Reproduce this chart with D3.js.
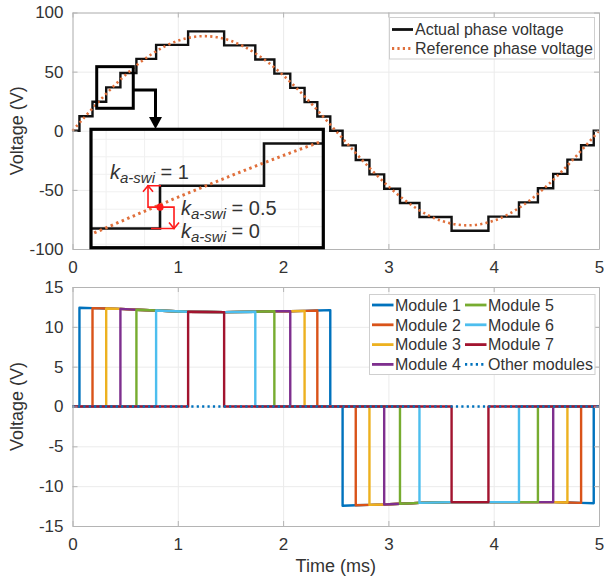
<!DOCTYPE html>
<html>
<head>
<meta charset="utf-8">
<script src="https://cdn.jsdelivr.net/npm/d3@7"></script>
<style>
    body { margin: 0; background: #fff; }
    svg text { font-family: "Liberation Sans", Arial, sans-serif; fill: #333; }
</style>
</head>
<body>
<svg id="chart" width="604" height="580"></svg>
<script>
// ---- data ----
var timeTicks = [0, 1, 2, 3, 4, 5];
var phaseTicks = [-100, -50, 0, 50, 100];
var moduleTicks = [-15, -10, -5, 0, 5, 10, 15];

// reference phase voltage (V), sampled every 0.125 ms
var refTime = [0, 0.125, 0.25, 0.375, 0.5, 0.625, 0.75, 0.875, 1, 1.125, 1.25,
    1.375, 1.5, 1.625, 1.75, 1.875, 2, 2.125, 2.25, 2.375, 2.5,
    2.625, 2.75, 2.875, 3, 3.125, 3.25, 3.375, 3.5, 3.625, 3.75,
    3.875, 4, 4.125, 4.25, 4.375, 4.5, 4.625, 4.75, 4.875, 5];
var refVoltage = [0, 12.5, 24.7, 36.3, 47, 56.6, 64.7, 71.3, 76.1, 79, 80,
    79, 76.1, 71.3, 64.7, 56.6, 47, 36.3, 24.7, 12.5, 0,
    -12.5, -24.7, -36.3, -47, -56.6, -64.7, -71.3, -76.1, -79, -80,
    -79, -76.1, -71.3, -64.7, -56.6, -47, -36.3, -24.7, -12.5, 0];

// actual phase voltage (staircase), level held from each time
var stepTime = [0, 0.066, 0.19, 0.32, 0.455, 0.607, 0.794, 1.098, 1.44, 1.736, 1.917, 2.068,
    2.204, 2.325, 2.448, 2.565, 2.69, 2.82, 2.96, 3.11, 3.295, 3.6, 3.95, 4.24, 4.42,
    4.565, 4.7, 4.83, 4.95, 5];
var stepLevel = [0, 12.3, 24.5, 36.7, 48.8, 60.8, 72.6, 84, 72.2, 60.3, 48.3, 36.3,
    24.2, 12.1, 0, -12.4, -24.7, -36.9, -49.1, -61.1, -73, -84.6, -72.6, -60.6, -48.6,
    -36.5, -24.4, -12.2, 0, 0];

// module switching edges (ms) and module voltage at each edge (V)
var posEdgeTime = [0.066, 0.19, 0.32, 0.455, 0.607, 0.794, 1.098, 1.44, 1.736, 1.917, 2.068, 2.204, 2.325, 2.448];
var posEdgeVolt = [12.4, 12.35, 12.3, 12.25, 12.15, 12.05, 11.9, 11.85, 11.9, 11.95, 11.95, 12.0, 12.05, 12.1];
var negEdgeTime = [2.565, 2.69, 2.82, 2.96, 3.11, 3.295, 3.6, 3.95, 4.24, 4.42, 4.565, 4.7, 4.83, 4.95];
var negEdgeVolt = [-12.45, -12.4, -12.35, -12.3, -12.2, -12.1, -12.0, -12.0, -12.0, -12.0, -12.0, -12.05, -12.1, -12.15];

var moduleNames = ["Module 1", "Module 2", "Module 3", "Module 4", "Module 5", "Module 6", "Module 7"];
var otherName = "Other modules";
var phaseNames = ["Actual phase voltage", "Reference phase voltage"];

// ---- styles ----
var moduleColors = ["#0072BD", "#D95319", "#EDB120", "#7E2F8E", "#77AC30", "#4DBEEE", "#A2142F"];
var refColor = "#e0703c";

(function () {
    "use strict";

    var svg = d3.select("#chart");
    var left = 72.5, right = 599;
    var fmt = function (d) { return String(d); }; // plain hyphen minus, no decimals

    var x = d3.scaleLinear().domain([0, 5]).range([left, right]);
    var yTop = d3.scaleLinear().domain([-100, 100]).range([249, 12.5]);
    var yBot = d3.scaleLinear().domain([-15, 15]).range([526, 287]);

    function frame(y, ticks) {
        var g = svg.append("g");
        var y0 = y.range()[0], y1 = y.range()[1];
        // grid
        g.append("g").attr("transform", "translate(0," + y0 + ")")
            .call(d3.axisBottom(x).tickValues(timeTicks).tickSize(-(y0 - y1)).tickFormat(""))
            .call(function (s) { s.select(".domain").remove(); s.selectAll("line").attr("stroke", "#ebebeb"); });
        g.append("g").attr("transform", "translate(" + left + ",0)")
            .call(d3.axisLeft(y).tickValues(ticks).tickSize(-(right - left)).tickFormat(""))
            .call(function (s) { s.select(".domain").remove(); s.selectAll("line").attr("stroke", "#ebebeb"); });
        return g;
    }

    function axes(y, ticks) {
        var g = svg.append("g");
        var y0 = y.range()[0], y1 = y.range()[1];
        g.append("g").attr("transform", "translate(0," + y0 + ")")
            .call(d3.axisBottom(x).tickValues(timeTicks).tickFormat(fmt)
                .tickSizeInner(-5).tickSizeOuter(0).tickPadding(12));
        g.append("g").attr("transform", "translate(" + left + ",0)")
            .call(d3.axisLeft(y).tickValues(ticks).tickFormat(fmt)
                .tickSizeInner(-5).tickSizeOuter(0).tickPadding(9));
        g.append("g").attr("transform", "translate(0," + y1 + ")")
            .call(d3.axisTop(x).tickValues(timeTicks).tickSizeInner(-5).tickSizeOuter(0).tickFormat(""));
        g.append("g").attr("transform", "translate(" + right + ",0)")
            .call(d3.axisRight(y).tickValues(ticks).tickSizeInner(-5).tickSizeOuter(0).tickFormat(""));
        g.selectAll(".domain").attr("stroke", "#b4b4b4");
        g.selectAll(".tick line").attr("stroke", "#b4b4b4");
        g.selectAll(".tick text").attr("font-size", 17).attr("fill", "#333")
            .attr("font-family", "Liberation Sans, Arial, sans-serif");
        g.append("text")
            .attr("transform", "translate(23," + ((y0 + y1) / 2) + ") rotate(-90)")
            .attr("text-anchor", "middle").attr("font-size", 18)
            .text("Voltage (V)");
    }

    // ================= top panel =================
    frame(yTop, phaseTicks);

    var stepLine = d3.line().curve(d3.curveStepAfter)
        .x(function (d) { return x(d[0]); }).y(function (d) { return yTop(d[1]); });
    var smoothLine = d3.line().curve(d3.curveMonotoneX)
        .x(function (d) { return x(d[0]); }).y(function (d) { return yTop(d[1]); });

    var steps = stepTime.map(function (t, i) { return [t, stepLevel[i]]; });
    var ref = refTime.map(function (t, i) { return [t, refVoltage[i]]; });

    svg.append("path").datum(steps).attr("d", stepLine)
        .attr("fill", "none").attr("stroke", "#111").attr("stroke-width", 2.4);
    svg.append("path").datum(ref).attr("d", smoothLine)
        .attr("fill", "none").attr("stroke", refColor).attr("stroke-width", 2.6)
        .attr("stroke-dasharray", "2.2,3.2");

    axes(yTop, phaseTicks);

    // small zoom box on the curve
    var boxT = [0.23, 0.577], boxV = [19, 54.2];
    svg.append("rect")
        .attr("x", x(boxT[0])).attr("y", yTop(boxV[1]))
        .attr("width", x(boxT[1]) - x(boxT[0])).attr("height", yTop(boxV[0]) - yTop(boxV[1]))
        .attr("fill", "none").attr("stroke", "#000").attr("stroke-width", 3);

    // inset (magnified view)
    var xi = d3.scaleLinear().domain([0.2304, 0.532]).range([91, 323.3]);
    var yi = d3.scaleLinear().domain([19.0, 52.86]).range([247.7, 129.3]);
    var inset = svg.append("g");
    svg.append("clipPath").attr("id", "insetClip").append("rect")
        .attr("x", 91).attr("y", 129.3).attr("width", 232.3).attr("height", 118.4);
    inset.append("rect").attr("x", 91).attr("y", 129.3).attr("width", 232.3).attr("height", 118.4)
        .attr("fill", "#fff");
    var ig = inset.append("g").attr("clip-path", "url(#insetClip)");
    [0.25, 0.3, 0.35, 0.4, 0.45, 0.5].forEach(function (t) {
        ig.append("line").attr("x1", xi(t)).attr("x2", xi(t)).attr("y1", 129).attr("y2", 248)
            .attr("stroke", "#f0f0f0");
    });
    [20, 25, 30, 35, 40, 45, 50].forEach(function (v) {
        ig.append("line").attr("y1", yi(v)).attr("y2", yi(v)).attr("x1", 91).attr("x2", 323)
            .attr("stroke", "#f0f0f0");
    });
    ig.append("path").datum(steps)
        .attr("d", d3.line().curve(d3.curveStepAfter)
            .x(function (d) { return xi(d[0]); }).y(function (d) { return yi(d[1]); }))
        .attr("fill", "none").attr("stroke", "#111").attr("stroke-width", 2.6);
    ig.append("path").datum(ref)
        .attr("d", d3.line().curve(d3.curveMonotoneX)
            .x(function (d) { return xi(d[0]); }).y(function (d) { return yi(d[1]); }))
        .attr("fill", "none").attr("stroke", refColor).attr("stroke-width", 3)
        .attr("stroke-dasharray", "2.5,3.5");

    // red switching annotation
    var rx = xi(stepTime[3]), lo = yi(stepLevel[2]), hi = yi(stepLevel[3]), mid = (lo + hi) / 2;
    var red = inset.append("g").attr("stroke", "#ff1a1a").attr("stroke-width", 1.6).attr("fill", "none");
    red.append("path").attr("d", "M" + rx + "," + mid + "H" + (rx - 12) + "V" + hi + "H" + (rx + 1));
    red.append("path").attr("d", "M" + (rx - 17) + "," + (hi + 6) + "L" + (rx - 12) + "," + hi + "L" + (rx - 7) + "," + (hi + 6));
    red.append("path").attr("d", "M" + rx + "," + mid + "H" + (rx + 14) + "V" + lo + "H" + (rx - 9));
    red.append("path").attr("d", "M" + (rx + 9) + "," + (lo - 6) + "L" + (rx + 14) + "," + lo + "L" + (rx + 19) + "," + (lo - 6));
    inset.append("circle").attr("cx", rx).attr("cy", mid).attr("r", 3.6).attr("fill", "#ff1a1a");

    inset.append("rect").attr("x", 91).attr("y", 129.3).attr("width", 232.3).attr("height", 118.4)
        .attr("fill", "none").attr("stroke", "#000").attr("stroke-width", 3.2);

    function kLabel(px, py, val) {
        var t = svg.append("text").attr("x", px).attr("y", py)
            .attr("font-family", "Liberation Serif, Times New Roman, serif")
            .attr("font-size", 20).attr("fill", "#111");
        t.append("tspan").attr("font-style", "italic").text("k");
        t.append("tspan").attr("font-style", "italic").attr("font-size", 15).attr("dy", 4).text("a-swi");
        t.append("tspan").attr("dy", -4).text(" = " + val);
    }
    kLabel(110, 179, "1");
    kLabel(181, 215, "0.5");
    kLabel(181, 237.5, "0");

    // big arrow from the small box to the inset
    var ax0 = x(boxT[1]), ay0 = 90, axm = 155.5;
    svg.append("path").attr("d", "M" + ax0 + "," + ay0 + "H" + axm + "V" + 119)
        .attr("fill", "none").attr("stroke", "#000").attr("stroke-width", 3);
    svg.append("path").attr("d", "M" + (axm - 6.5) + ",117L" + (axm + 6.5) + ",117L" + axm + ",129Z")
        .attr("fill", "#000");

    // top legend
    var lg = svg.append("g");
    lg.append("rect").attr("x", 389.5).attr("y", 17.5).attr("width", 205).attr("height", 41.5)
        .attr("fill", "#fff").attr("stroke", "#cfcfcf");
    [29.5, 48.5].forEach(function (cy, i) {
        lg.append("line").attr("x1", 392).attr("x2", 413).attr("y1", cy).attr("y2", cy)
            .attr("stroke", i ? refColor : "#111").attr("stroke-width", i ? 2.8 : 2.8)
            .attr("stroke-dasharray", i ? "2.2,3.2" : null);
        lg.append("text").attr("x", 415).attr("y", cy).attr("dy", "0.36em")
            .attr("font-size", 16).attr("fill", "#222").text(phaseNames[i]);
    });

    // ================= bottom panel =================
    frame(yBot, moduleTicks);

    var modLine = d3.line()
        .x(function (d) { return x(d[0]); }).y(function (d) { return yBot(d[1]); });

    moduleNames.forEach(function (name, k) {
        var last = posEdgeTime.length - 1 - k;
        var pts = [[0, 0], [posEdgeTime[k], 0]];
        for (var i = k; i <= last; i++) pts.push([posEdgeTime[i], posEdgeVolt[i]]);
        pts.push([posEdgeTime[last], 0], [negEdgeTime[k], 0]);
        for (i = k; i <= last; i++) pts.push([negEdgeTime[i], negEdgeVolt[i]]);
        pts.push([negEdgeTime[last], 0], [5, 0]);
        svg.append("path").datum(pts).attr("d", modLine)
            .attr("fill", "none").attr("stroke", moduleColors[k]).attr("stroke-width", 2.4)
            .attr("stroke-linejoin", "round");
    });
    svg.append("path").datum([[0, 0], [5, 0]]).attr("d", modLine)
        .attr("fill", "none").attr("stroke", moduleColors[0]).attr("stroke-width", 2.6)
        .attr("stroke-dasharray", "2.2,3.2");

    axes(yBot, moduleTicks);

    svg.append("text").attr("x", (left + right) / 2).attr("y", 566).attr("dy", "0.36em")
        .attr("text-anchor", "middle").attr("font-size", 18).text("Time (ms)");

    // bottom legend
    var lb = svg.append("g");
    lb.append("rect").attr("x", 369.5).attr("y", 294.5).attr("width", 225.5).attr("height", 80)
        .attr("fill", "#fff").attr("stroke", "#cfcfcf");
    var items = moduleNames.map(function (n, i) { return { name: n, color: moduleColors[i], dot: false }; });
    items.push({ name: otherName, color: moduleColors[0], dot: true });
    items.forEach(function (d, i) {
        var col = i < 4 ? 0 : 1, row = i % 4;
        var lx = col ? 465 : 372, cy = 305 + row * 19.8;
        lb.append("line").attr("x1", lx).attr("x2", lx + 21.5).attr("y1", cy).attr("y2", cy)
            .attr("stroke", d.color).attr("stroke-width", d.dot ? 2.8 : 2.8)
            .attr("stroke-dasharray", d.dot ? "2.2,3.2" : null);
        lb.append("text").attr("x", lx + 23).attr("y", cy).attr("dy", "0.36em")
            .attr("font-size", 16).attr("fill", "#222").text(d.name);
    });
}());
</script>
</body>
</html>
